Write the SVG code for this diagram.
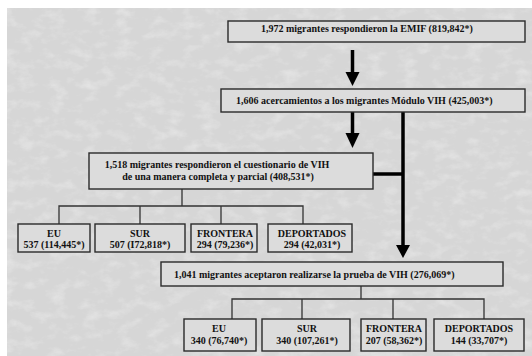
<svg xmlns="http://www.w3.org/2000/svg" width="532" height="356" viewBox="0 0 532 356">
<defs>
<filter id="marble" x="0" y="0" width="100%" height="100%">
<feTurbulence type="fractalNoise" baseFrequency="0.06 0.1" numOctaves="4" seed="3" result="n"/>
<feColorMatrix in="n" type="matrix" values="0 0 0 0 1  0 0 0 0 1  0 0 0 0 1  0 0 -1.6 0 0.85" result="w"/>
<feComposite in="w" in2="SourceGraphic" operator="in"/>
</filter>
<style>
.bx{fill:#dcdcdc;stroke:#2a2a2a;stroke-width:1.4}
.t{font-family:"Liberation Serif","Times New Roman",serif;font-weight:bold;font-size:10px;fill:#111}
.c{text-anchor:middle}
.arr{stroke:#000;stroke-width:3.5;fill:none}
.tree{stroke:#333;stroke-width:1.3;fill:none}
</style>
</defs>
<rect x="0" y="0" width="532" height="356" fill="#fff"/>
<rect x="7" y="8" width="525" height="348" fill="#d6d6d6"/>
<rect x="7" y="8" width="525" height="348" fill="#d6d6d6" filter="url(#marble)" opacity="0.45"/>

<g id="connectors">
<line class="arr" x1="352.5" y1="50" x2="352.5" y2="74"/>
<path d="M345.5,72 L359.5,72 L352.5,86 Z" fill="#000"/>
<line class="arr" x1="352.5" y1="112" x2="352.5" y2="135"/>
<path d="M345.5,133 L359.5,133 L352.5,148 Z" fill="#000"/>
<line class="arr" x1="373" y1="174" x2="403" y2="174"/>
<line class="arr" x1="403" y1="112" x2="403" y2="247"/>
<path d="M396,245 L410,245 L403,258 Z" fill="#000"/>
<path class="tree" d="M182,189 V206 M59,224 V206 H303 V224 M140,206 V224 M221,206 V224"/>
<path class="tree" d="M361,286 V299 M232,319 V299 H484 V319 M302,299 V319 M393,299 V319"/>
</g>

<g id="n1"><rect class="bx" x="228" y="21" width="297" height="21"/>
<text class="t" x="261" y="32">1,972 migrantes respondieron la EMIF (819,842*)</text></g>

<g id="n2"><rect class="bx" x="221" y="89" width="304" height="23"/>
<text class="t" x="236" y="103.5">1,606 acercamientos a los migrantes Módulo VIH (425,003*)</text></g>

<g id="n3"><rect class="bx" x="89" y="153" width="284" height="36"/>
<text class="t c" x="217" y="167.5">1,518 migrantes respondieron el cuestionario de VIH</text>
<text class="t c" x="218" y="179.5">de una manera completa y parcial (408,531*)</text></g>

<g id="n4"><rect class="bx" x="18" y="224" width="72" height="28"/>
<text class="t c" x="54" y="237">EU</text><text class="t c" x="54" y="248">537 (114,445*)</text></g>
<g id="n5"><rect class="bx" x="95" y="224" width="90" height="28"/>
<text class="t c" x="140" y="237">SUR</text><text class="t c" x="140" y="248">507 (I72,818*)</text></g>
<g id="n6"><rect class="bx" x="191" y="224" width="66" height="28"/>
<text class="t c" x="225" y="237">FRONTERA</text><text class="t c" x="225" y="248">294 (79,236*)</text></g>
<g id="n7"><rect class="bx" x="268" y="224" width="84" height="28"/>
<text class="t c" x="312" y="237">DEPORTADOS</text><text class="t c" x="312" y="248">294 (42,031*)</text></g>

<g id="n8"><rect class="bx" x="161" y="262" width="342" height="24"/>
<text class="t" x="174" y="277.5">1,041 migrantes aceptaron realizarse la prueba de VIH (276,069*)</text></g>

<g id="n9"><rect class="bx" x="184" y="319" width="72" height="32"/>
<text class="t c" x="219" y="332">EU</text><text class="t c" x="219" y="344">340 (76,740*)</text></g>
<g id="n10"><rect class="bx" x="262" y="319" width="88" height="32"/>
<text class="t c" x="307" y="332">SUR</text><text class="t c" x="307" y="344">340 (107,261*)</text></g>
<g id="n11"><rect class="bx" x="361" y="319" width="65" height="32"/>
<text class="t c" x="394" y="332">FRONTERA</text><text class="t c" x="394" y="344">207 (58,362*)</text></g>
<g id="n12"><rect class="bx" x="434" y="319" width="90" height="32"/>
<text class="t c" x="479" y="332">DEPORTADOS</text><text class="t c" x="479" y="344">144 (33,707*)</text></g>
</svg>
